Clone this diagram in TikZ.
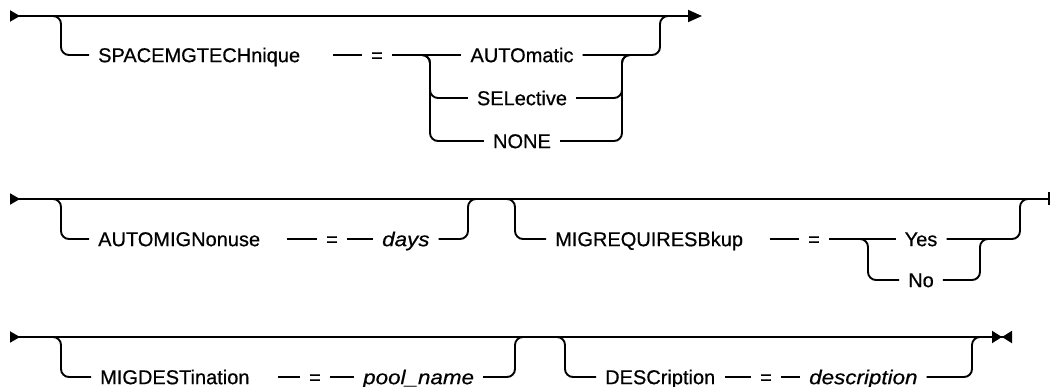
\documentclass[tikz,border=0pt]{standalone}
\usepackage{fontspec}
\setmainfont{Liberation Sans}[
    UprightFeatures={FakeBold=0.6},
    ItalicFeatures={FakeStretch=1.12, FakeBold=0.6}]
\usetikzlibrary{arrows.meta}

\begin{document}
\begin{tikzpicture}[
        x=1pt, y=-1pt,
        track/.style={line width=1.9pt, rounded corners=8pt},
        kw/.style={
            anchor=west,
            inner xsep=9pt,
            inner ysep=0pt,
            text height=14.3pt,
            text depth=0pt,
            font=\fontsize{20}{24}\selectfont
        },
        var/.style={kw, font=\fontsize{20}{24}\selectfont\itshape},
        opt/.style={kw, anchor=center},
        eq/.style={kw, anchor=center}
    ]
    \useasboundingbox (0,0) rectangle (1051,387);

    % Row 1
    \coordinate (r1s) at (10,16);
    \coordinate (r1e) at (702,16);
    \coordinate (b1) at (53,16);
    \coordinate (d1) at (333,55);
    \coordinate (c1) at (422,55);
    \coordinate (k1) at (622,55);
    \coordinate (m1) at (660,16);
    \node[kw] (spc) at (89,55) {SPACEMGTECHnique};
    \node[eq] (eq1) at (377,55) {=};
    \node[opt] (auto) at (522,55) {AUTOmatic};
    \node[opt] (sel) at (522,98) {SELective};
    \node[opt] (none) at (522,141) {NONE};

    \draw[track, {Triangle[reversed, length=10pt, width=11pt]}-{Triangle[length=14pt, width=12pt]}] (r1s) -- (r1e);
    \draw[track] (b1) -- ++(8,0) |- (spc.west);
    \draw[track] (d1) -- (eq1.west);
    \draw[track] (eq1.east) -- (auto.west);
    \draw[track] (c1) -- ++(8,0) |- (sel.west);
    \draw[track] (c1) -- ++(8,0) |- (none.west);
    \draw[track] (auto.east) -| (m1) -- ++(8,0);
    \draw[track] (sel.east) -| (k1) -- ++(8,0);
    \draw[track] (none.east) -| (k1) -- ++(8,0);

    % Row 2
    \coordinate (r2s) at (10,199);
    \coordinate (r2e) at (1050,199);
    \coordinate (b2) at (53,199);
    \coordinate (d2) at (287,239);
    \coordinate (m2) at (468,199);
    \coordinate (b3) at (507,199);
    \coordinate (d3) at (770,239);
    \coordinate (c2) at (860,239);
    \coordinate (k2) at (980,239);
    \coordinate (m3) at (1020,199);
    \node[kw] (amig) at (89,239) {AUTOMIGNonuse};
    \node[eq] (eq2) at (332,239) {=};
    \node[var] (days) at (373,239) {days};
    \node[kw] (mreq) at (546,239) {MIGREQUIRESBkup};
    \node[eq] (eq3) at (814,239) {=};
    \node[opt] (yes) at (921,239) {Yes};
    \node[opt] (no) at (921,280) {No};

    \draw[track, {Triangle[reversed, length=10pt, width=11pt]}-{Bar[width=13pt]}] (r2s) -- (r2e);
    \draw[track] (b2) -- ++(8,0) |- (amig.west);
    \draw[track] (d2) -- (eq2.west);
    \draw[track] (eq2.east) -- (days.west);
    \draw[track] (days.east) -| (m2) -- ++(8,0);
    \draw[track] (b3) -- ++(8,0) |- (mreq.west);
    \draw[track] (d3) -- (eq3.west);
    \draw[track] (eq3.east) -- (yes.west);
    \draw[track] (c2) -- ++(8,0) |- (no.west);
    \draw[track] (yes.east) -| (m3) -- ++(8,0);
    \draw[track] (no.east) -| (k2) -- ++(8,0);

    % Row 3
    \coordinate (r3s) at (10,337);
    \coordinate (r3e) at (1012,337);
    \coordinate (b4) at (53,337);
    \coordinate (d4) at (278,377);
    \coordinate (m4) at (515,337);
    \coordinate (b5) at (557,337);
    \coordinate (d5) at (725,377);
    \coordinate (m5) at (972,337);
    \node[kw] (mdest) at (91,377) {MIGDESTination};
    \node[eq] (eq4) at (315,377) {=};
    \node[var] (pool) at (354,377) {pool\_name};
    \node[kw] (desc) at (596,377) {DESCription};
    \node[eq] (eq5) at (766,377) {=};
    \node[var] (dscv) at (800,377) {description};

    \draw[track, {Triangle[reversed, length=10pt, width=11pt]}-{Triangle[length=10pt, width=12pt] Triangle[reversed, length=10pt, width=12pt]}] (r3s) -- (r3e);
    \draw[track] (b4) -- ++(8,0) |- (mdest.west);
    \draw[track] (d4) -- (eq4.west);
    \draw[track] (eq4.east) -- (pool.west);
    \draw[track] (pool.east) -| (m4) -- ++(8,0);
    \draw[track] (b5) -- ++(8,0) |- (desc.west);
    \draw[track] (d5) -- (eq5.west);
    \draw[track] (eq5.east) -- (dscv.west);
    \draw[track] (dscv.east) -| (m5) -- ++(8,0);

\end{tikzpicture}
\end{document}
